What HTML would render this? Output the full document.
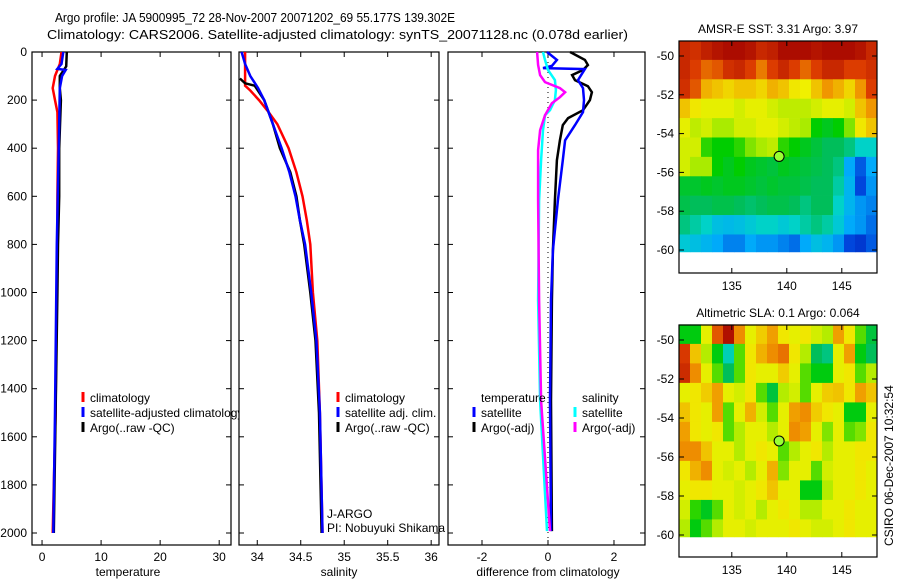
<!DOCTYPE html>
<html><head><meta charset="utf-8"><style>
body{margin:0;background:#fff}
svg{display:block;font-family:"Liberation Sans",sans-serif}
</style></head><body>
<svg id="c" width="900" height="580" xmlns="http://www.w3.org/2000/svg">
<text x="55" y="22" font-size="13" textLength="400" lengthAdjust="spacingAndGlyphs">Argo profile: JA 5900995_72 28-Nov-2007 20071202_69 55.177S 139.302E</text>
<text x="47" y="39" font-size="13" textLength="581" lengthAdjust="spacingAndGlyphs">Climatology: CARS2006. Satellite-adjusted climatology: synTS_20071128.nc (0.078d earlier)</text>
<g id="g"></g>
</svg>
<script>
// ---------- data ----------
const tempClimD=[0,50,100,150,200,250,400,600,800,1000,1200,1500,1800,2000];
const tempClimV=[3.3,3.0,2.2,1.8,2.2,2.6,2.7,2.6,2.6,2.5,2.4,2.3,2.0,1.8];
const tempArgoD=[0,60,100,150,200,400,600,800,1000,1500,2000];
const tempArgoV=[4.2,4.1,3.0,3.0,3.2,2.9,2.9,2.7,2.6,2.3,2.0];
const tempSatD=[0,50,70,75,100,150,300,800,1500,2000];
const tempSatV=[3.6,3.3,2.6,4.0,3.4,3.0,2.9,2.5,2.2,1.9];
const salClimD=[0,140,160,200,250,300,400,500,600,700,800,1000,1200,1500,2000];
const salClimV=[33.86,33.86,33.92,34.02,34.13,34.23,34.36,34.45,34.52,34.57,34.61,34.64,34.69,34.72,34.75];
const salArgoD=[110,130,140,200,300,400,500,600,700,800,1000,1200,1500,2000];
const salArgoV=[33.80,33.86,33.97,34.08,34.18,34.26,34.38,34.45,34.49,34.54,34.61,34.67,34.71,34.74];
const salSatD=[0,50,100,150,200,300,400,500,600,700,800,1000,1200,1500,2000];
const salSatV=[33.82,33.86,33.92,34.01,34.08,34.18,34.28,34.37,34.44,34.49,34.55,34.62,34.68,34.72,34.75];
const dTSatD=[0,33,58,67,71,117,150,200,250,304,367,450,617,825,1033,1450,1992];
const dTSatV=[-0.03,0.27,0.12,-0.15,1.12,0.91,1.06,1.09,1.06,0.82,0.52,0.45,0.3,0.15,0.09,0.06,0.09];
const dTArgoD=[0,33,54,75,96,117,142,167,200,242,275,304,367,450,617,825,1033,1450,1992];
const dTArgoV=[0.67,1.12,1.21,1.06,0.73,0.82,1.21,1.33,1.27,1.06,0.61,0.45,0.36,0.27,0.21,0.15,0.12,0.09,0.12];
const dSSatD=[0,33,75,117,158,200,242,263,325,450,617,1033,1450,1992];
const dSSatV=[-0.15,-0.09,0,0.21,0.24,0.21,0.06,-0.09,-0.15,-0.21,-0.27,-0.3,-0.24,-0.03];
const dSArgoD=[0,54,96,125,150,167,188,213,263,325,408,617,1033,1450,1992];
const dSArgoV=[-0.33,-0.3,-0.24,-0.09,0.36,0.52,0.36,0.12,-0.09,-0.24,-0.3,-0.3,-0.27,-0.21,0.06];
const depthTicks=[0,200,400,600,800,1000,1200,1400,1600,1800,2000];
const tempTicks=[0,10,20,30];
const salTicks=[34,34.5,35,35.5,36];
const diffTicks=[-2,0,2];
const latTicks=[-50,-52,-54,-56,-58,-60];
const lonTicks=[135,140,145];
const sstGrid=[
[0.9,0.88,0.92,0.95,0.97,0.97,0.95,0.9,0.92,0.97,0.97,0.97,0.95,0.97,0.97,0.97,0.95,0.9],
[0.9,0.85,0.8,0.82,0.88,0.9,0.85,0.78,0.85,0.9,0.85,0.8,0.85,0.9,0.9,0.85,0.85,0.88],
[0.88,0.82,0.72,0.7,0.68,0.7,0.7,0.68,0.72,0.7,0.66,0.65,0.7,0.75,0.72,0.68,0.75,0.85],
[0.7,0.66,0.64,0.64,0.64,0.62,0.64,0.64,0.62,0.6,0.6,0.6,0.62,0.64,0.64,0.62,0.7,0.75],
[0.64,0.6,0.62,0.58,0.58,0.62,0.62,0.64,0.64,0.62,0.6,0.58,0.5,0.48,0.5,0.56,0.66,0.7],
[0.62,0.62,0.52,0.5,0.5,0.52,0.56,0.58,0.6,0.52,0.5,0.48,0.46,0.44,0.44,0.42,0.38,0.38],
[0.62,0.58,0.58,0.5,0.48,0.5,0.48,0.47,0.46,0.48,0.47,0.46,0.45,0.44,0.42,0.3,0.22,0.3],
[0.47,0.47,0.48,0.47,0.48,0.48,0.47,0.46,0.47,0.46,0.46,0.45,0.44,0.44,0.4,0.32,0.2,0.28],
[0.45,0.44,0.44,0.45,0.45,0.44,0.43,0.44,0.45,0.45,0.44,0.42,0.44,0.44,0.38,0.32,0.28,0.26],
[0.42,0.4,0.38,0.34,0.33,0.34,0.36,0.38,0.38,0.36,0.38,0.4,0.42,0.4,0.36,0.3,0.28,0.24],
[0.36,0.34,0.32,0.3,0.26,0.26,0.3,0.28,0.28,0.26,0.24,0.3,0.34,0.32,0.28,0.2,0.18,0.22]];
const slaGrid=[
[0.45,0.45,0.6,0.78,0.92,0.72,0.6,0.65,0.7,0.62,0.6,0.62,0.58,0.55,0.7,0.62,0.5,0.42],
[0.82,0.66,0.55,0.45,0.35,0.5,0.62,0.68,0.72,0.75,0.62,0.55,0.4,0.38,0.6,0.7,0.45,0.4],
[0.85,0.72,0.6,0.5,0.4,0.5,0.62,0.6,0.6,0.65,0.6,0.5,0.45,0.45,0.6,0.62,0.5,0.55],
[0.6,0.62,0.65,0.7,0.6,0.58,0.62,0.5,0.42,0.55,0.58,0.5,0.6,0.65,0.66,0.62,0.7,0.66],
[0.66,0.62,0.6,0.7,0.5,0.6,0.68,0.58,0.5,0.6,0.7,0.72,0.65,0.62,0.6,0.45,0.45,0.6],
[0.7,0.62,0.6,0.62,0.5,0.55,0.6,0.6,0.55,0.6,0.72,0.7,0.6,0.52,0.6,0.5,0.52,0.62],
[0.72,0.72,0.66,0.6,0.6,0.55,0.6,0.62,0.6,0.5,0.55,0.6,0.62,0.55,0.6,0.6,0.62,0.62],
[0.62,0.68,0.72,0.6,0.58,0.6,0.55,0.6,0.68,0.52,0.6,0.6,0.5,0.58,0.6,0.6,0.62,0.6],
[0.6,0.62,0.62,0.6,0.6,0.58,0.6,0.62,0.66,0.6,0.6,0.45,0.45,0.55,0.6,0.6,0.62,0.6],
[0.58,0.48,0.44,0.5,0.6,0.58,0.6,0.55,0.6,0.62,0.6,0.55,0.55,0.6,0.6,0.62,0.6,0.6],
[0.55,0.45,0.5,0.55,0.6,0.6,0.58,0.6,0.6,0.6,0.62,0.6,0.58,0.58,0.6,0.62,0.6,0.6]];
const argoLon=139.302, argoLat=-55.177;
const cmapPos=[0.1,0.2,0.3,0.38,0.44,0.5,0.58,0.65,0.75,0.85,1.0];
const cmapCol=[[0,0,160],[0,70,220],[0,170,250],[0,210,200],[0,190,90],[0,205,0],[170,235,0],[240,240,0],[240,150,0],[220,60,0],[160,0,0]];

// ---------- drawing ----------
const NS="http://www.w3.org/2000/svg", G=document.getElementById('g');
function mk(t,a,p){const e=document.createElementNS(NS,t);for(const k in a)e.setAttribute(k,a[k]);(p||G).appendChild(e);return e;}
const yD=d=>52+d*0.2405;
function panel(x0,x1,v0,v1,name){
  const sx=v=>x0+(v-v0)/(v1-v0)*(x1-x0);
  const r=mk('rect',{x:x0,y:52,width:x1-x0,height:493,fill:'#fff',stroke:'#000','stroke-width':1.2});
  
  
  return sx;
}
function line(D,V,sx,col,name,w){
  const pts=D.map((d,i)=>sx(V[i]).toFixed(1)+','+yD(d).toFixed(1)).join(' ');
  const e=mk('polyline',{points:pts,fill:'none',stroke:col,'stroke-width':w||2.5});
  
  
}
function xticks(sx,ticks,name,label,lx){
  ticks.forEach(t=>{const x=sx(t);
    mk('line',{x1:x,x2:x,y1:545,y2:540,stroke:'#000'});mk('line',{x1:x,x2:x,y1:52,y2:57,stroke:'#000'});
    const e=mk('text',{x:x,y:561,'font-size':12,'text-anchor':'middle'});e.textContent=t;
    
    });
  const l=mk('text',{x:lx,y:576,'font-size':12,'text-anchor':'middle'});l.textContent=label;
  
  
}
function yticks(x0,x1,lab){
  depthTicks.forEach(d=>{const y=yD(d);
    mk('line',{x1:x0,x2:x0+5,y1:y,y2:y,stroke:'#000'});mk('line',{x1:x1,x2:x1-5,y1:y,y2:y,stroke:'#000'});
    if(lab){const e=mk('text',{x:27,y:y+4,'font-size':12,'text-anchor':'end'});e.textContent=d;
      
      }});
}
function leg(x,y,col,txt,name){
  if(col)mk('line',{x1:x,x2:x,y1:y-10,y2:y,stroke:col,'stroke-width':3});
  const e=mk('text',{x:x+7,y:y,'font-size':12});e.textContent=txt;
  
  
}
// panel 1 temperature
let sx=panel(32,231,-1.7,32,'temperature');
yticks(32,231,true);xticks(sx,tempTicks,'temperature','temperature',128);
line(tempClimD,tempClimV,sx,'#f00','temp-climatology-line');
line(tempArgoD,tempArgoV,sx,'#000','temp-argo-line');
line(tempSatD,tempSatV,sx,'#00f','temp-satellite-line');
leg(83,402,'#f00','climatology','legend-climatology');
leg(83,417,'#00f','satellite-adjusted climatology','legend-satellite');
leg(83,432,'#000','Argo(..raw -QC)','legend-argo');
// panel 2 salinity
sx=panel(239,439,33.79,36.09,'salinity');
yticks(239,439,false);xticks(sx,salTicks,'salinity','salinity',339);
line(salClimD,salClimV,sx,'#f00','sal-climatology-line');
line(salArgoD,salArgoV,sx,'#000','sal-argo-line');
line(salSatD,salSatV,sx,'#00f','sal-satellite-line');
leg(338,402,'#f00','climatology','sal-legend-climatology');
leg(338,417,'#00f','satellite adj. clim.','sal-legend-satellite');
leg(338,432,'#000','Argo(..raw -QC)','sal-legend-argo');
leg(320,518,null,'J-ARGO','project-label');
leg(320,532,null,'PI: Nobuyuki Shikama','pi-label');
// panel 3 diff
sx=panel(448,645,-3.03,2.94,'difference');
yticks(448,645,false);xticks(sx,diffTicks,'difference','difference from climatology',548);
mk('line',{x1:sx(0),x2:sx(0),y1:52,y2:545,stroke:'#000','stroke-dasharray':'1,4'});
line(dTArgoD,dTArgoV,sx,'#000','dtemp-argo-line');
line(dTSatD,dTSatV,sx,'#00f','dtemp-satellite-line');
line(dSSatD,dSSatV,sx,'#0ff','dsal-satellite-line');
line(dSArgoD,dSArgoV,sx,'#f0f','dsal-argo-line');
leg(474,402,null,'temperature','dlegend-temperature-header');
leg(474,417,'#00f','satellite','dlegend-temp-satellite');
leg(474,432,'#000','Argo(-adj)','dlegend-temp-argo');
leg(575,402,null,'salinity','dlegend-salinity-header');
leg(575,417,'#0ff','satellite','dlegend-sal-satellite');
leg(575,432,'#f0f','Argo(-adj)','dlegend-sal-argo');
// colormap
function cmap(v){
  if(v<=cmapPos[0])return `rgb(${cmapCol[0]})`;
  for(let i=1;i<cmapPos.length;i++){if(v<=cmapPos[i]){const t=(v-cmapPos[i-1])/(cmapPos[i]-cmapPos[i-1]);
    const c=cmapCol[i-1].map((a,k)=>Math.round(a+(cmapCol[i][k]-a)*t));return `rgb(${c})`;}}
  return `rgb(${cmapCol[cmapCol.length-1]})`;
}
function map(top,bot,gridArr,title,name,lat50y,lat60y,cOff){
  const lx=lon=>679+(lon-130.2)*11, ly=lat=>lat50y+(-50-lat)*(lat60y-lat50y)/10;
  const g=mk('g',{});
  mk('rect',{x:679,y:top,width:198,height:bot-top,fill:'#fff'},g);
  gridArr.forEach((row,r)=>row.forEach((v,c)=>{
    const la=-49.2-r, lo=130.2+c;
    const y0=ly(la), y1=ly(la-1>-60.1?la-1:-60.1);
    const e=mk('rect',{x:lx(lo),y:y0,width:11.3,height:y1-y0+0.3,fill:cmap(v+cOff)},g);
    
    
  }));
  mk('rect',{x:679,y:top,width:198,height:bot-top,fill:'none',stroke:'#000','stroke-width':1.2},g);
  latTicks.forEach(l=>{const y=ly(l);mk('line',{x1:679,x2:684,y1:y,y2:y,stroke:'#000'},g);mk('line',{x1:877,x2:872,y1:y,y2:y,stroke:'#000'},g);
    const t=mk('text',{x:674,y:y+4,'font-size':12,'text-anchor':'end'},g);t.textContent=l;});
  lonTicks.forEach(l=>{const x=lx(l);mk('line',{x1:x,x2:x,y1:bot,y2:bot-5,stroke:'#000'},g);mk('line',{x1:x,x2:x,y1:top,y2:top+5,stroke:'#000'},g);
    const t=mk('text',{x:x,y:bot+17,'font-size':12,'text-anchor':'middle'},g);t.textContent=l;});
  const tt=mk('text',{x:778,y:top-8,'font-size':12,'text-anchor':'middle'},g);tt.textContent=title;
  const ci=mk('circle',{cx:lx(argoLon),cy:ly(argoLat),r:5,fill:'#9f3',stroke:'#000'},g);
  
  
}
map(41,273,sstGrid,'AMSR-E SST: 3.31 Argo: 3.97','sst-map',56,250,0);
map(325,557,slaGrid,'Altimetric SLA: 0.1 Argo: 0.064','sla-map',340,535,0.04);
const st=mk('text',{x:0,y:0,'font-size':12,transform:'translate(893,546) rotate(-90)'});
st.textContent='CSIRO 06-Dec-2007 10:32:54';


</script>
</body></html>
